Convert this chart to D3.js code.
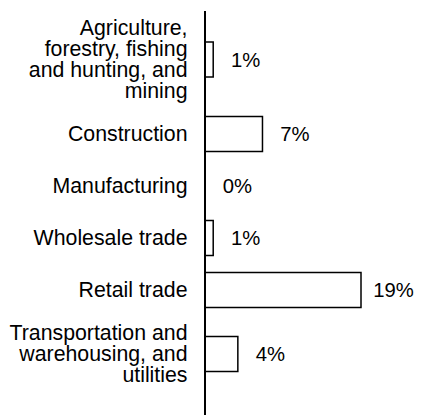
<!DOCTYPE html>
<html>
<head>
<meta charset="utf-8">
<script src="https://cdn.jsdelivr.net/npm/d3@7"></script>
<style>
  html, body { margin: 0; padding: 0; background: #fff; }
  svg { display: block; }
  text { font-family: "Liberation Sans", Arial, sans-serif; fill: #000; }
</style>
</head>
<body>
<svg id="chart" width="422" height="415"></svg>
<script>
const categories = [
  "Agriculture, forestry, fishing and hunting, and mining",
  "Construction",
  "Manufacturing",
  "Wholesale trade",
  "Retail trade",
  "Transportation and warehousing, and utilities"
];
const labelLines = [
  ["Agriculture,", "forestry, fishing", "and hunting, and", "mining"],
  ["Construction"],
  ["Manufacturing"],
  ["Wholesale trade"],
  ["Retail trade"],
  ["Transportation and", "warehousing, and", "utilities"]
];
const values = [1, 7, 0, 1, 19, 4];
const valueLabels = ["1%", "7%", "0%", "1%", "19%", "4%"];

const W = 422, H = 415;
const axisX = 205, plotTop = 11;
const lineH = 21, fontSize = 21.3, barH = 35;

const svg = d3.select("#chart");

// band heights depend on how many label lines each category has
const bandH = labelLines.map(l => Math.max(52, l.length * lineH + 13));
const starts = [];
let acc = plotTop;
bandH.forEach(h => { starts.push(acc); acc += h; });
const centers = starts.map((s, i) => s + bandH[i] / 2);

const y = d3.scaleOrdinal().domain(categories).range(centers);
const x = d3.scaleLinear().domain([0, 19]).range([axisX, axisX + 156]);

const data = categories.map((c, i) => ({ c, v: values[i], lab: valueLabels[i], lines: labelLines[i] }));

// bars
svg.append("g").selectAll("rect").data(data).join("rect")
  .attr("x", x(0))
  .attr("y", d => y(d.c) - barH / 2)
  .attr("width", d => x(d.v) - x(0))
  .attr("height", barH)
  .attr("fill", "#fff")
  .attr("stroke", "#000")
  .attr("stroke-width", 1.5)
  .attr("display", d => d.v > 0 ? null : "none");

// axis line
svg.append("line")
  .attr("x1", axisX).attr("x2", axisX)
  .attr("y1", plotTop).attr("y2", H)
  .attr("stroke", "#000").attr("stroke-width", 2);

// category labels
const lg = svg.append("g").selectAll("text").data(data).join("text")
  .attr("text-anchor", "end")
  .attr("font-size", fontSize);
lg.each(function(d) {
  const n = d.lines.length;
  d3.select(this).selectAll("tspan").data(d.lines).join("tspan")
    .attr("x", 187.5)
    .attr("y", (t, i) => y(d.c) + (i - (n - 1) / 2) * lineH + 7)
    .text(t => t);
});

// value labels
svg.append("g").selectAll("text").data(data).join("text")
  .attr("text-anchor", "middle")
  .attr("font-size", 20.3)
  .attr("x", d => x(d.v) + 32.5)
  .attr("y", d => y(d.c) + 7)
  .text(d => d.lab);
</script>
</body>
</html>
